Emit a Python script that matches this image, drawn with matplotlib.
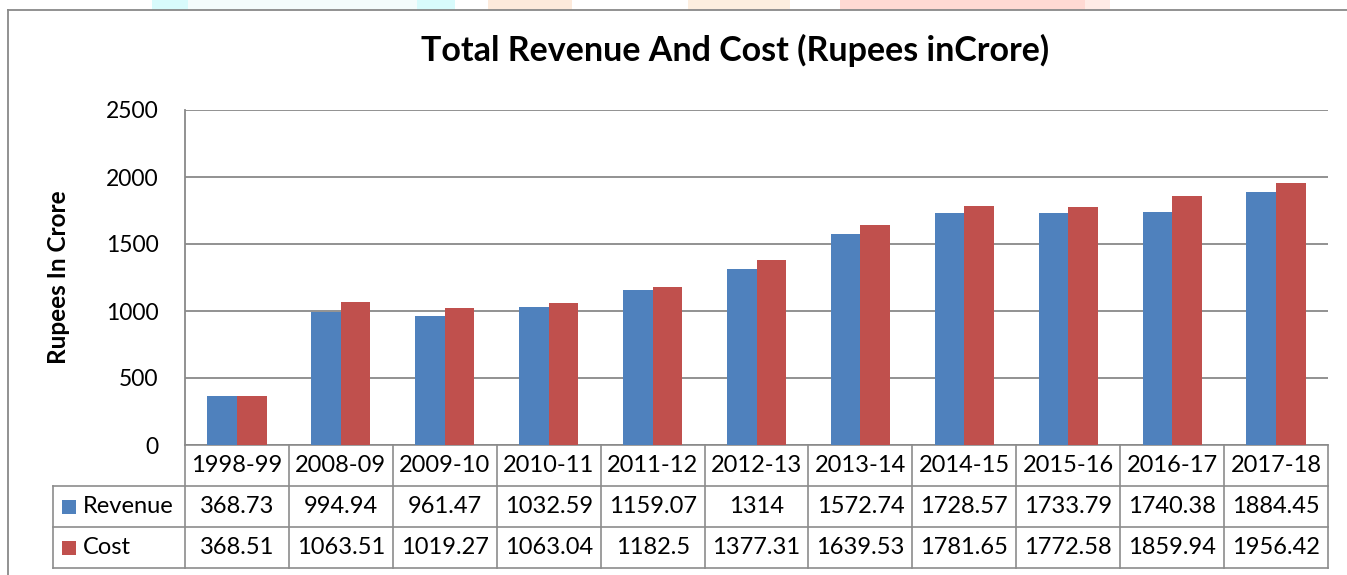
import matplotlib
matplotlib.use("Agg")
import matplotlib.pyplot as plt
from matplotlib.patches import Rectangle

plt.rcParams["font.family"] = ["Lato", "DejaVu Sans"]

years = ["1998-99", "2008-09", "2009-10", "2010-11", "2011-12", "2012-13",
         "2013-14", "2014-15", "2015-16", "2016-17", "2017-18"]
revenue = [368.73, 994.94, 961.47, 1032.59, 1159.07, 1314,
           1572.74, 1728.57, 1733.79, 1740.38, 1884.45]
cost = [368.51, 1063.51, 1019.27, 1063.04, 1182.5, 1377.31,
        1639.53, 1781.65, 1772.58, 1859.94, 1956.42]
revenue_txt = ["368.73", "994.94", "961.47", "1032.59", "1159.07", "1314",
               "1572.74", "1728.57", "1733.79", "1740.38", "1884.45"]
cost_txt = ["368.51", "1063.51", "1019.27", "1063.04", "1182.5", "1377.31",
            "1639.53", "1781.65", "1772.58", "1859.94", "1956.42"]

BLUE = "#4F81BD"
RED = "#C0504D"
GRID = "#898989"

W, H = 1347, 575
fig = plt.figure(figsize=(W / 100, H / 100), dpi=100)

# plot area in pixel units
L, R, T, B = 185, 1328, 110, 445

# overlay in pixel coords for frame + data table
pax = fig.add_axes([0, 0, 1, 1])
pax.set_xlim(0, W)
pax.set_ylim(H, 0)
pax.axis("off")

# faint slide background peeking above the chart frame
for x0, x1, c in [(152, 188, "#d8fbfc"), (188, 417, "#f4fcfc"),
                  (417, 455, "#d8fbfc"), (488, 572, "#fdeadb"),
                  (688, 790, "#fdeedf"), (840, 1085, "#ffd9d3"),
                  (1085, 1110, "#ffebe6")]:
    pax.add_patch(Rectangle((x0, 0), x1 - x0, 10, facecolor=c, edgecolor="none"))

# chart frame
pax.plot([8, 8], [10, H], color=GRID, lw=1.3)
pax.plot([8, W], [10, 10], color=GRID, lw=1.3)

ax = fig.add_axes([L / W, (H - B) / H, (R - L) / W, (B - T) / H])
n = len(years)
x = list(range(n))
bw = 0.285
ax.bar([i - bw / 2 for i in x], revenue, width=bw, color=BLUE, zorder=3)
ax.bar([i + bw / 2 for i in x], cost, width=bw, color=RED, zorder=3)
ax.set_xlim(-0.5, n - 0.5)
ax.set_ylim(0, 2500)
ax.set_yticks([0, 500, 1000, 1500, 2000, 2500])
ax.set_xticks([])
ax.tick_params(axis="y", length=0, pad=19, labelsize=16.5)
ax.grid(axis="y", color=GRID, lw=1.3, zorder=0)
for s in ["top", "right", "bottom"]:
    ax.spines[s].set_visible(False)
ax.spines["left"].set_color(GRID)
ax.spines["left"].set_linewidth(1.3)
ax.set_facecolor("none")

fig.text(735 / W, 1 - 50 / H, "Total Revenue And Cost (Rupees inCrore)",
         ha="center", va="center", fontsize=24.5, fontweight="bold")
fig.text(58 / W, 1 - 277 / H, "Rupees In Crore", rotation=90,
         ha="center", va="center", fontsize=17.5, fontweight="bold")

# data table
cw = (R - L) / n
r0, r1, r2, r3 = B, 486, 527, 568
tl = 53
lc = "#8c8c8c"
pax.plot([L, R], [r0, r0], color=lc, lw=1.2)
for y in (r1, r2, r3):
    pax.plot([tl, R], [y, y], color=lc, lw=1.2)
pax.plot([tl, tl], [r1, r3], color=lc, lw=1.2)
for i in range(n + 1):
    xx = L + i * cw
    pax.plot([xx, xx], [r0, r3], color=lc, lw=1.2)

fs = 17
for i in range(n):
    cx = L + (i + 0.5) * cw
    pax.text(cx, (r0 + r1) / 2, years[i], ha="center", va="center", fontsize=fs)
    pax.text(cx, (r1 + r2) / 2, revenue_txt[i], ha="center", va="center", fontsize=fs)
    pax.text(cx, (r2 + r3) / 2, cost_txt[i], ha="center", va="center", fontsize=fs)

for (lab, col, y0, y1) in [("Revenue", BLUE, r1, r2), ("Cost", RED, r2, r3)]:
    ym = (y0 + y1) / 2
    pax.add_patch(Rectangle((62, ym - 7), 14, 14, facecolor=col, edgecolor="none"))
    pax.text(83, ym, lab, ha="left", va="center", fontsize=fs)

fig.savefig("out.png", dpi=100, facecolor="white")
